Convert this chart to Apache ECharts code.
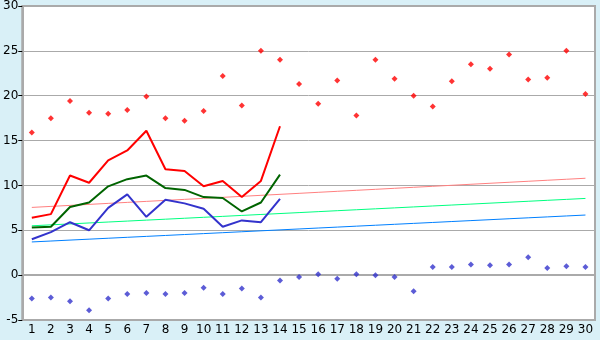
<!DOCTYPE html>
<html><head><meta charset="utf-8">
<script src="https://cdn.jsdelivr.net/npm/echarts@6/dist/echarts.min.js"></script>
<style>html,body{margin:0;padding:0;background:#D9F0F7}#c{width:600px;height:340px}</style>
</head><body><div id="c"></div>
<script>
const days = Array.from({length:30},(_,i)=>String(i+1));
const maxTemp = [6.4,6.8,11.1,10.3,12.8,13.9,16.1,11.8,11.6,9.9,10.5,8.7,10.5,16.6];
const meanTemp = [5.3,5.4,7.6,8.1,9.9,10.7,11.1,9.7,9.5,8.7,8.6,7.1,8.1,11.2];
const minTemp = [4.0,4.8,5.9,5.0,7.5,9.0,6.5,8.4,8.0,7.4,5.4,6.1,5.9,8.5];
const recordMax = [15.9,17.5,19.4,18.1,18.0,18.4,19.9,17.5,17.2,18.3,22.2,18.9,25.0,24.0,21.3,19.1,21.7,17.8,24.0,21.9,20.0,18.8,21.6,23.5,23.0,24.6,21.8,22.0,25.0,20.2];
const recordMin = [-2.6,-2.5,-2.9,-3.9,-2.6,-2.1,-2.0,-2.1,-2.0,-1.4,-2.1,-1.5,-2.5,-0.6,-0.2,0.1,-0.4,0.1,0.0,-0.2,-1.8,0.9,0.9,1.2,1.1,1.2,2.0,0.8,1.0,0.9];
const trendMax = [7.55,10.8];
const trendMean = [5.5,8.55];
const trendMin = [3.7,6.7];
const yTicks = {min:-5,max:30,interval:5};

function trend(a){return days.map((d,i)=>+(a[0]+(a[1]-a[0])*i/29).toFixed(3));}

const chart = echarts.init(document.getElementById('c'),null,{renderer:'canvas'});
chart.setOption({
  animation:false,
  backgroundColor:'#D9F0F7',
  grid:{left:20,right:5,top:5,bottom:20,show:true,backgroundColor:'#fff',borderColor:'#aaa',borderWidth:2},
  xAxis:{type:'category',data:days,boundaryGap:true,
    axisLine:{lineStyle:{color:'#aaa',width:2}},
    axisTick:{alignWithLabel:true,length:5,lineStyle:{color:'#000'}},
    axisLabel:{color:'#000',fontFamily:'DejaVu Sans',fontSize:12,margin:4,interval:0},
    splitLine:{show:false}},
  yAxis:{type:'value',min:yTicks.min,max:yTicks.max,interval:yTicks.interval,
    axisLine:{show:true,lineStyle:{color:'#aaa',width:2}},
    axisTick:{show:true,length:4,lineStyle:{color:'#000'}},
    axisLabel:{color:'#000',fontFamily:'DejaVu Sans',fontSize:12,margin:4},
    splitLine:{lineStyle:{color:'#aaa',width:1}}},
  series:[
    {type:'line',data:trend(trendMax),symbol:'none',lineStyle:{color:'#FF8080',width:1}},
    {type:'line',data:trend(trendMean),symbol:'none',lineStyle:{color:'#00FF80',width:1}},
    {type:'line',data:trend(trendMin),symbol:'none',lineStyle:{color:'#0080FF',width:1}},
    {type:'line',data:maxTemp,symbol:'none',lineStyle:{color:'#FF0000',width:2}},
    {type:'line',data:meanTemp,symbol:'none',lineStyle:{color:'#006400',width:2}},
    {type:'line',data:minTemp,symbol:'none',lineStyle:{color:'#3333CC',width:2}},
    {type:'scatter',data:recordMax,symbol:'diamond',symbolSize:6,itemStyle:{color:'#FF0000'}},
    {type:'scatter',data:recordMin,symbol:'diamond',symbolSize:6,itemStyle:{color:'#3333CC'}}
  ]
});
</script></body></html>
